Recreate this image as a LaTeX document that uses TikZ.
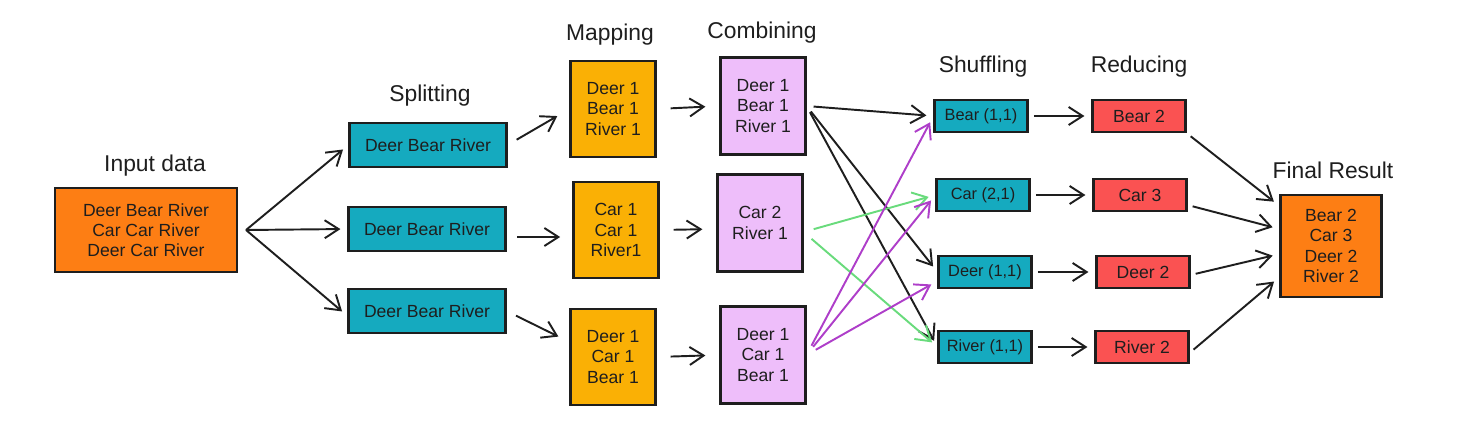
\documentclass[tikz,border=0pt]{standalone}
\usepackage{fontspec}
\setmainfont{Liberation Sans}
\usepackage{xcolor}
\usetikzlibrary{arrows.meta,positioning}
\definecolor{ink}{HTML}{1E1E1E}
\definecolor{exorange}{HTML}{FD7E14}
\definecolor{excyan}{HTML}{15AABF}
\definecolor{exyellow}{HTML}{FAB005}
\definecolor{exviolet}{HTML}{EEBEFA}
\definecolor{exred}{HTML}{FA5252}
\definecolor{expurple}{HTML}{AE3EC9}
\definecolor{exgreen}{HTML}{69DB7C}

\begin{document}
\begin{tikzpicture}[
  x=0.02cm,y=-0.02cm,
  box/.style={rectangle,draw=ink,line width=1.2pt,text=ink,align=center,inner sep=0pt,font=\fontsize{10}{11.5}\selectfont},
  inbox/.style={box,fill=exorange,minimum width=3.64cm,minimum height=1.68cm},
  splitbox/.style={box,fill=excyan,minimum width=3.14cm,minimum height=0.88cm},
  mapbox/.style={box,fill=exyellow,minimum width=1.7cm,minimum height=1.92cm},
  combbox/.style={box,fill=exviolet,minimum width=1.7cm,minimum height=1.94cm},
  shufbox/.style={box,fill=excyan,minimum width=1.86cm,minimum height=0.64cm,font=\fontsize{9.3}{11}\selectfont},
  redbox/.style={box,fill=exred,minimum width=1.86cm,minimum height=0.64cm},
  title/.style={text=ink,font=\fontsize{13}{15}\selectfont},
  arrow/.style={-{Straight Barb[length=2.8mm,width=3.6mm]},line width=1.1pt,draw=ink,shorten <=3pt,shorten >=4pt},
  greenarrow/.style={arrow,draw=exgreen},
  purplearrow/.style={arrow,draw=expurple}
]
\useasboundingbox (0,0) rectangle (1478,443);

% Titles
\node[title] (tin)   at (155,166) {Input data};
\node[title] (tsplit) at (430,96) {Splitting};
\node[title] (tmap)  at (610,35) {Mapping};
\node[title] (tcomb) at (762,33) {Combining};
\node[title] (tshuf) at (983,67) {Shuffling};
\node[title] (tred)  at (1139,67) {Reducing};
\node[title] (tfin)  at (1333,170) {Final Result};

% Nodes
\node[inbox] (in) at (146,230) {Deer Bear River\\Car Car River\\Deer Car River};

\node[splitbox] (s1) at (428,145) {Deer Bear River};
\node[splitbox] (s2) at (427,229) {Deer Bear River};
\node[splitbox] (s3) at (427,311) {Deer Bear River};

\node[mapbox] (m1) at (613,109) {Deer 1\\Bear 1\\River 1};
\node[mapbox] (m2) at (616,230) {Car 1\\Car 1\\River1};
\node[mapbox] (m3) at (613,357) {Deer 1\\Car 1\\Bear 1};

\node[combbox] (c1) at (763,106) {Deer 1\\Bear 1\\River 1};
\node[combbox] (c2) at (760,223) {Car 2\\River 1};
\node[combbox] (c3) at (763,355) {Deer 1\\Car 1\\Bear 1};

\node[shufbox] (sh1) at (981,116) {Bear (1,1)};
\node[shufbox] (sh2) at (983,195) {Car (2,1)};
\node[shufbox] (sh3) at (985,272) {Deer (1,1)};
\node[shufbox] (sh4) at (985,347) {River (1,1)};

\node[redbox] (r1) at (1139,116) {Bear 2};
\node[redbox] (r2) at (1140,195) {Car 3};
\node[redbox] (r3) at (1143,272) {Deer 2};
\node[redbox] (r4) at (1142,347) {River 2};

\node[inbox,minimum width=2.02cm,minimum height=2.04cm] (fin) at (1331,246) {Bear 2\\Car 3\\Deer 2\\River 2};

% Splitting
\coordinate (fan) at ([xshift=0.16cm]in.east);
\draw[arrow,shorten <=0pt] (fan) -- (s1.west);
\draw[arrow,shorten <=0pt] (fan) -- (s2.west);
\draw[arrow,shorten <=0pt] (fan) -- ([yshift=-0.1cm]s3.west);

% Mapping
\draw[arrow,shorten <=6pt,shorten >=8pt] (s1.east) -- (m1.west);
\draw[arrow,shorten <=6pt,shorten >=7pt] ([yshift=-0.16cm]s2.east) -- ([yshift=-0.14cm]m2.west);
\draw[arrow,shorten <=6pt,shorten >=7pt] (s3.east) -- ([yshift=0.3cm]m3.west);

% Combining
\draw[arrow,shorten <=8pt,shorten >=8pt] (m1.east) -- (c1.west);
\draw[arrow,shorten <=8pt,shorten >=8pt] (m2.east) -- ([yshift=-0.12cm]c2.west);
\draw[arrow,shorten <=8pt,shorten >=8pt] (m3.east) -- (c3.west);

% Shuffling
\draw[arrow,shorten <=4pt] (c1.east) -- (sh1.west);
\draw[arrow,shorten <=4pt] (c1.east) -- (sh3.west);
\draw[arrow,shorten <=4pt] (c1.east) -- (sh4.west);
\draw[greenarrow,shorten <=6pt] ([yshift=-0.18cm]c2.east) -- (sh2.west);
\draw[greenarrow,shorten <=6pt] ([yshift=-0.18cm]c2.east) -- (sh4.west);
\draw[purplearrow,shorten <=6pt] (c3.east) -- (sh1.west);
\draw[purplearrow,shorten <=6pt] (c3.east) -- (sh2.west);
\draw[purplearrow,shorten <=6pt] (c3.east) -- ([yshift=-0.18cm]sh3.west);

% Reducing
\draw[arrow] (sh1.east) -- (r1.west);
\draw[arrow] (sh2.east) -- (r2.west);
\draw[arrow] (sh3.east) -- (r3.west);
\draw[arrow] (sh4.east) -- (r4.west);

% Final result
\draw[arrow] (r1.south east) -- ([yshift=0.8cm]fin.west);
\draw[arrow] ([yshift=-0.2cm]r2.east) -- ([yshift=0.34cm]fin.west);
\draw[arrow] ([yshift=-0.06cm]r3.east) -- ([yshift=-0.16cm]fin.west);
\draw[arrow] ([yshift=-0.12cm]r4.east) -- ([yshift=-0.62cm]fin.west);
\end{tikzpicture}
\end{document}
